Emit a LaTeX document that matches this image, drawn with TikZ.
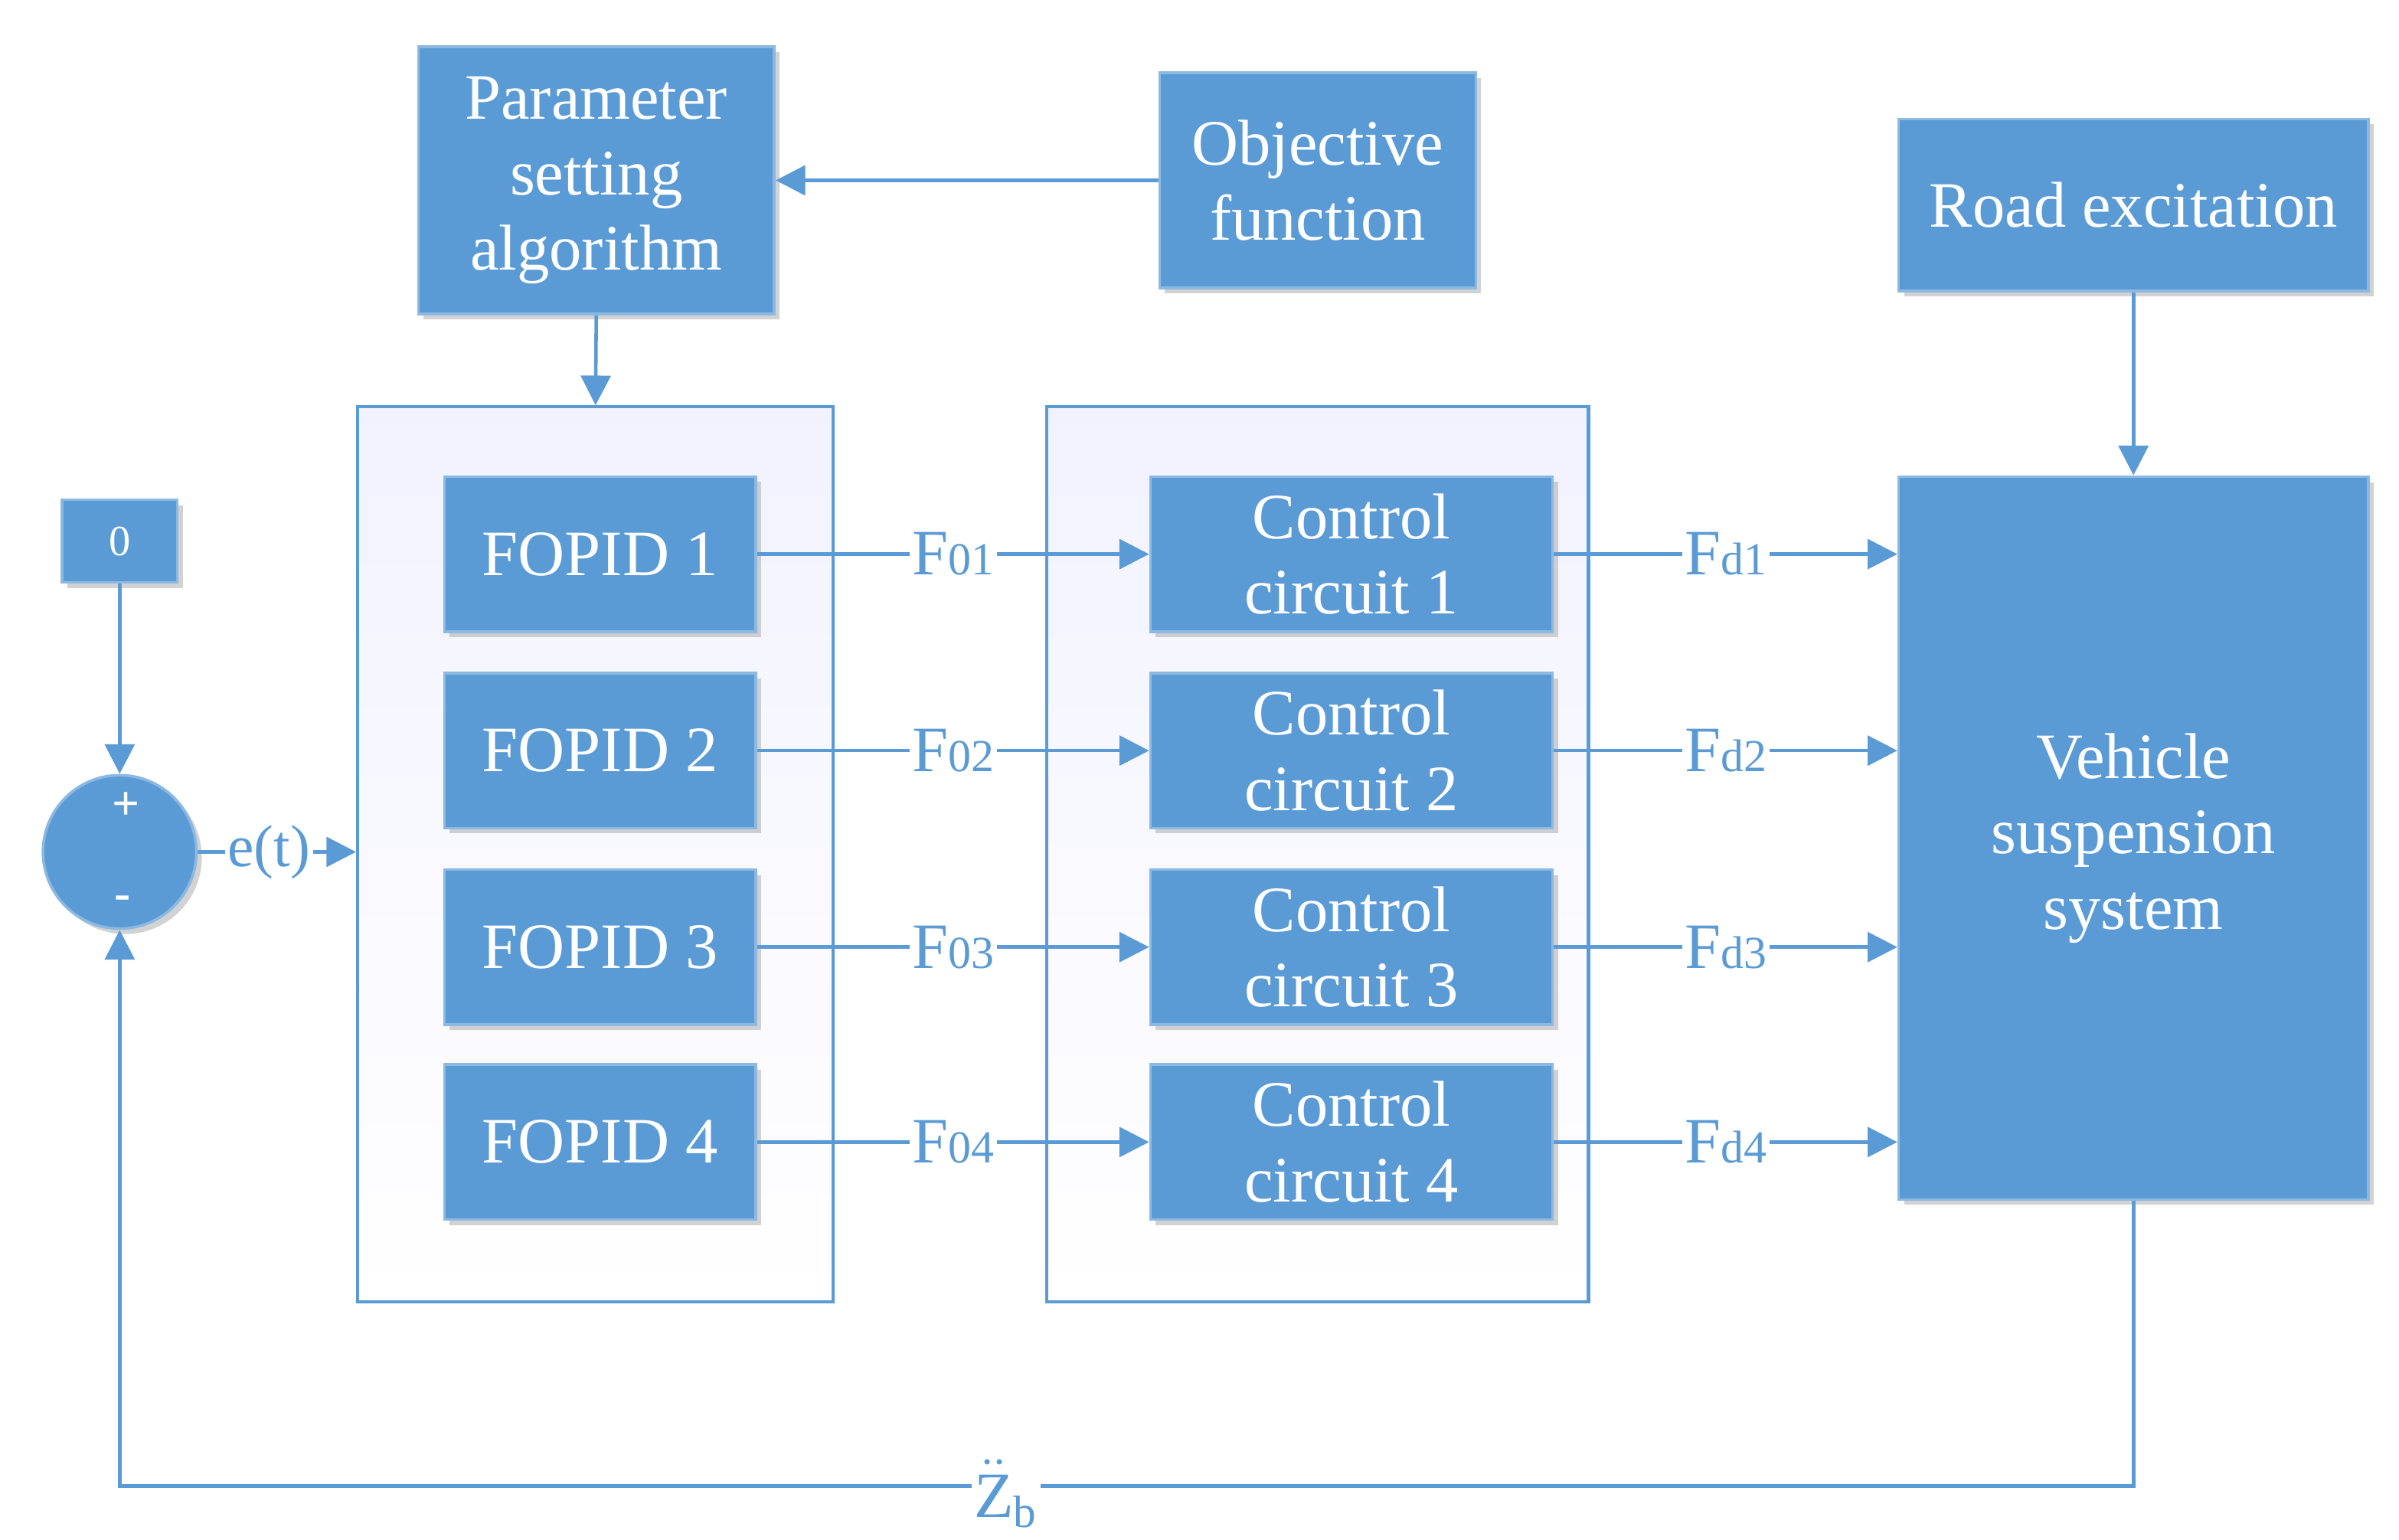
\documentclass[tikz,border=0pt]{standalone}
\usepackage{fontspec}
\setmainfont{Liberation Serif}
\usetikzlibrary{arrows.meta,shadows,positioning}
\definecolor{bx}{HTML}{5B9BD5}
\definecolor{ln}{HTML}{5B9BD5}
\begin{document}
\begin{tikzpicture}[x=0.02cm,y=-0.02cm,
  box/.style={draw=bx!70!white,line width=1pt,fill=bx,text=white,align=center,
     font=\fontsize{24}{28}\selectfont,inner sep=0pt,
     drop shadow={fill=black!35,shadow xshift=2pt,shadow yshift=-2pt,opacity=0.5}},
  outer/.style={draw=ln,line width=1.2pt,top color=blue!5,bottom color=white,inner sep=0pt,minimum height=11.66cm},
  arr/.style={draw=ln,line width=1.3pt,-{Triangle[width=11pt,length=11pt]}},
  lab/.style={fill=white,inner sep=1pt,text=ln,font=\fontsize{24}{28}\selectfont}]
\useasboundingbox (0,0) rectangle (1563,1003);
\node[outer,minimum width=6.2cm] (o1) at (388,556.5) {};
\node[outer,minimum width=7.06cm] (o2) at (858.5,556.5) {};
\node[box,minimum width=4.64cm,minimum height=3.48cm] (par) at (388.5,117.5) {Parameter\\setting\\algorithm};
\node[box,minimum width=4.12cm,minimum height=2.8cm] (obj) at (858.5,117.5) {Objective\\function};
\node[box,minimum width=6.12cm,minimum height=2.24cm] (road) at (1390,133.5) {Road excitation};
\node[box,minimum width=6.12cm,minimum height=9.42cm] (veh) at (1390,546) {Vehicle\\suspension\\system};
\node[box,minimum width=1.5cm,minimum height=1.08cm,font=\fontsize{16}{18}\selectfont] (zero) at (78,352.5) {0};
\node[box,circle,minimum size=2cm] (sum) at (78,555) {};
\node[text=white,font=\fontsize{18}{20}\selectfont\bfseries] (plus) at (82,525) {+};
\node[text=white,font=\fontsize{18}{20}\selectfont\bfseries] (minus) at (80,588) {-};
\foreach \i/\y in {1/361,2/489,3/617,4/744}{
  \node[box,minimum width=4.06cm,minimum height=2.02cm] (f\i) at (391,\y) {FOPID \i};
  \node[box,minimum width=5.24cm,minimum height=2.02cm] (c\i) at (880.5,\y) {Control\\circuit \i};
  \draw[arr] (f\i.east) -- node[lab,pos=0.5]{F{\fontsize{17}{20}\selectfont 0\i}} (c\i.west);
  \draw[arr] (c\i.east) -- node[lab,pos=0.5]{F{\fontsize{17}{20}\selectfont d\i}} (c\i.east -| veh.west);
}
\draw[arr] (obj.west) -- (par.east);
\draw[arr] (par.south) -- (o1.north);
\draw[arr] (road.south) -- (veh.north);
\draw[arr] (zero.south) -- (sum.north);
\draw[arr] (sum.east) -- node[lab,pos=0.45,font=\fontsize{22}{26}\selectfont]{e(t)} (sum.east -| o1.west);
\coordinate (br) at (1390,968);
\coordinate (bl) at (78,968);
\draw[arr] (veh.south -| br) -- (br) -- node[lab,pos=0.56,yshift=-3pt]{$\ddot{\mathrm{Z}}_{\mathrm{b}}$} (bl) -- (sum.south);
\end{tikzpicture}
\end{document}
